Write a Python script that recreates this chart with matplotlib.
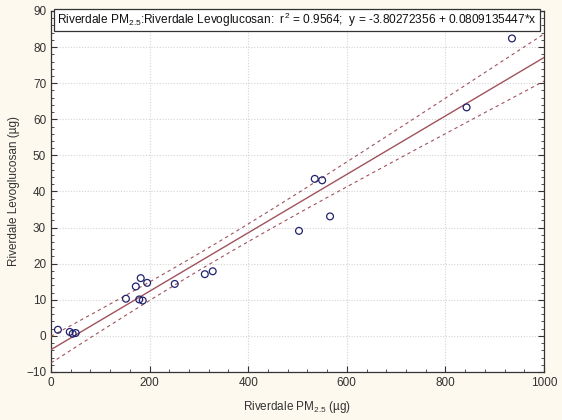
import numpy as np
import matplotlib
matplotlib.use("Agg")
import matplotlib.pyplot as plt
from matplotlib.ticker import MultipleLocator
from matplotlib.patches import Rectangle

# ---- data ----
pm25 = [14, 38, 44, 50, 152, 172, 182, 195, 179, 186, 251, 312, 328,
        503, 535, 550, 566, 843, 935]
levo = [1.7, 1.1, 0.6, 0.8, 10.3, 13.7, 16.0, 14.7, 10.1, 9.8, 14.4, 17.1, 17.9,
        29.1, 43.5, 43.1, 33.1, 63.3, 82.4]
intercept = -3.80272356
slope = 0.0809135447
r2 = 0.9564
x_ticks = [0, 200, 400, 600, 800, 1000]
y_ticks = [-10, 0, 10, 20, 30, 40, 50, 60, 70, 80, 90]

plt.rcParams['font.family'] = ['Liberation Sans', 'DejaVu Sans']
plt.rcParams['mathtext.fontset'] = 'custom'
plt.rcParams['mathtext.rm'] = 'Liberation Sans'
plt.rcParams['mathtext.it'] = 'Liberation Sans'
plt.rcParams['mathtext.default'] = 'regular'

x = np.array(pm25, float)
y = np.array(levo, float)
n = len(x)

# 95% confidence band of the regression line
try:
    from scipy.stats import t as tdist
    tval = tdist.ppf(0.975, n - 2)
except Exception:
    tval = 2.11
resid = y - (intercept + slope * x)
s = np.sqrt(np.sum(resid ** 2) / (n - 2))
sxx = np.sum((x - x.mean()) ** 2)
xs = np.linspace(0, 1000, 200)
ys = intercept + slope * xs
half = tval * s * np.sqrt(1.0 / n + (xs - x.mean()) ** 2 / sxx)

fig = plt.figure(figsize=(5.62, 4.2), dpi=100, facecolor='#fdf9ef')
ax = fig.add_axes([51 / 562, 1 - 372 / 420, 493 / 562, 361 / 420])
ax.set_facecolor('white')

line_col = '#a0525c'
ax.plot(xs, ys, color=line_col, lw=1.0, zorder=3)
ax.plot(xs, ys + half, color=line_col, lw=0.8, ls=(0, (3, 3)), zorder=3)
ax.plot(xs, ys - half, color=line_col, lw=0.8, ls=(0, (3, 3)), zorder=3)
ax.scatter(x, y, s=24, facecolors='none', edgecolors='#22226e', linewidths=0.9, zorder=4)

ax.set_xlim(0, 1000)
ax.set_ylim(-10, 90)
ax.set_xticks(x_ticks)
ax.set_yticks(y_ticks)
ax.xaxis.set_minor_locator(MultipleLocator(40))
ax.yaxis.set_minor_locator(MultipleLocator(2))
ax.tick_params(which='both', direction='in', right=True, top=False,
               labelsize=8.5, colors='#333333')
ax.tick_params(which='major', length=4, width=0.8)
ax.tick_params(which='minor', length=2.5, width=0.6)
ax.grid(True, which='major', color='#d4d4d4', ls=(0, (1, 1.5)), lw=0.8)
for sp in ax.spines.values():
    sp.set_color('#333333')
    sp.set_linewidth(0.9)

ax.set_xlabel('Riverdale PM$_{2.5}$ (µg)', fontsize=8.5, color='#333333', labelpad=7)
ax.set_ylabel('Riverdale Levoglucosan (µg)', fontsize=8.5, color='#333333', labelpad=4)

# title box inside the top of the plot
box = Rectangle((0.006, 0.945), 0.986, 0.061, transform=ax.transAxes,
                facecolor='white', edgecolor='#333333', lw=0.9, zorder=6, clip_on=False)
ax.add_patch(box)
title = ('Riverdale PM$_{2.5}$:Riverdale Levoglucosan:  r$^{2}$ = %.4f;  '
         'y = %.8f + %.10f*x' % (r2, intercept, slope))
ax.text(0.499, 0.975, title, transform=ax.transAxes, ha='center', va='center',
        fontsize=8.6, color='#111111', zorder=7)

fig.savefig('out.png', dpi=100, facecolor=fig.get_facecolor())
